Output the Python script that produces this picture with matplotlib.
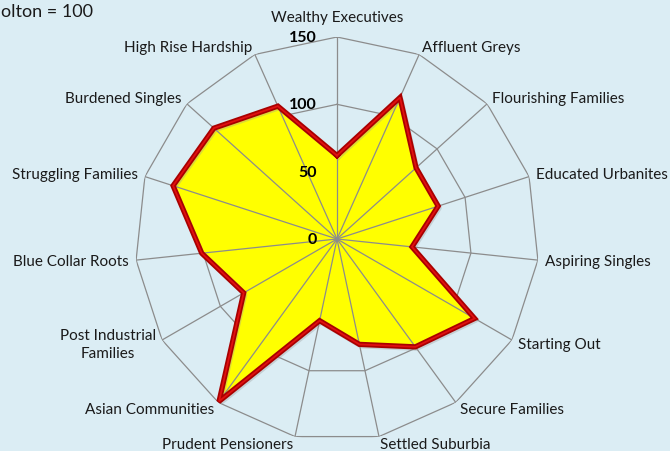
#!/usr/bin/env python3

import numpy as np
import matplotlib
matplotlib.use('Agg')
import matplotlib.pyplot as plt

categories = ['Wealthy Executives', 'Affluent Greys', 'Flourishing Families',
              'Educated Urbanites', 'Aspiring Singles', 'Starting Out',
              'Secure Families', 'Settled Suburbia', 'Prudent Pensioners',
              'Asian Communities', 'Post Industrial\nFamilies',
              'Blue Collar Roots', 'Struggling Families', 'Burdened Singles',
              'High Rise Hardship']
index_values = [62, 115, 79, 79, 56, 118, 99, 80, 62, 149, 80, 101, 128, 123, 108]
rings = [50, 100, 150]
ring_labels = ['0', '50', '100', '150']
title = 'olton = 100'

plt.rcParams['font.family'] = ['Lato', 'DejaVu Sans']

bg = '#dbedf4'
grid_col = '#8c8c8c'

W, H = 670, 452
fig = plt.figure(figsize=(W / 100, H / 100), dpi=100, facecolor=bg)
cx, cy, R = 337, 240, 202
ax = fig.add_axes([(cx - R) / W, (H - cy - R) / H, 2 * R / W, 2 * R / H],
                  projection='polar')
ax.set_facecolor('none')
ax.set_theta_zero_location('N')
ax.set_theta_direction(-1)
ax.set_ylim(0, 150)
ax.grid(False)
ax.spines['polar'].set_visible(False)
ax.set_xticks([])
ax.set_yticks([])

n = len(categories)
theta = 2 * np.pi * np.arange(n) / n
theta_c = np.append(theta, theta[0])

# polygon rings (under the fill)
for r in rings:
    ax.plot(theta_c, [r] * (n + 1), color=grid_col, lw=0.9, zorder=1)

vals = np.append(index_values, index_values[0])
ax.fill(theta_c, vals, color='#ffff00', zorder=2)

# spokes over the fill
for t in theta:
    ax.plot([t, t], [0, 150], color=grid_col, lw=0.9, zorder=3)

# shadow + edge
ax.plot(theta_c, vals, color='#9a9a9a', lw=3, alpha=0.35, zorder=3.5,
        transform=ax.transData + matplotlib.transforms.ScaledTranslation(
            1.5 / 100, -2 / 100, fig.dpi_scale_trans))
ax.plot(theta_c, vals, color='#a80000', lw=3.8, zorder=4, solid_joinstyle='miter')
ax.plot(theta_c, vals, color='#e01010', lw=1.3, zorder=5, solid_joinstyle='miter')

# radial labels
for r, lab in zip([0] + rings, ring_labels):
    ax.annotate(lab, xy=(0, r), xytext=(-20, 0), textcoords='offset pixels',
                ha='right', va='center', fontsize=11.5, fontweight='bold',
                color='black', zorder=6)

# category labels
for t, lab in zip(theta, categories):
    s, c = np.sin(t), np.cos(t)
    if abs(s) < 0.1:
        ha = 'center'
    elif s > 0:
        ha = 'left'
    else:
        ha = 'right'
    if c > 0.95:
        va, dx, dy = 'bottom', 0, 13
    else:
        va, dx, dy = 'center', 7 * s, 8 * c
    ax.annotate(lab, xy=(t, 150), xytext=(dx, dy), textcoords='offset pixels',
                ha=ha, va=va, fontsize=11, color='#1a1a1a',
                multialignment='center', linespacing=1.45,
                annotation_clip=False)

fig.text(1 / W, 1 - 12 / H, title, ha='left', va='center', fontsize=13,
         color='#1a1a1a')

fig.savefig('out.png', dpi=100, facecolor=bg)
